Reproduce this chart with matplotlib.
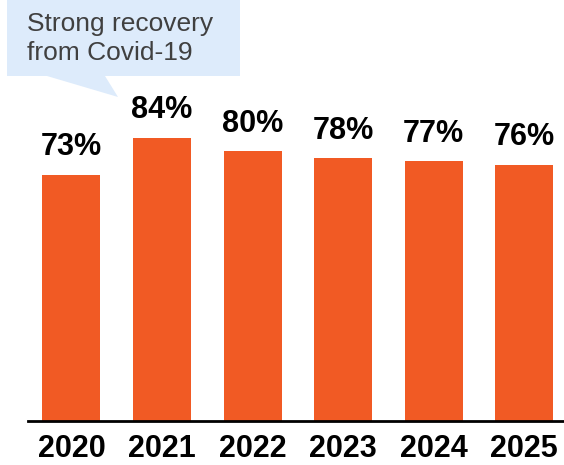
import matplotlib
matplotlib.use('Agg')
import matplotlib.pyplot as plt
from matplotlib.patches import Polygon

plt.rcParams['font.family'] = ['Liberation Sans', 'DejaVu Sans']

years = ['2020', '2021', '2022', '2023', '2024', '2025']
share = [73, 84, 80, 78, 77, 76]
note_text = 'Strong recovery\nfrom Covid-19'

BAR_COLOR = '#F15A24'
NOTE_FILL = '#DDEBFB'

W, H = 564, 465
fig = plt.figure(figsize=(W / 100, H / 100), dpi=100)
ax = fig.add_axes([28 / W, (H - 421) / H, 536 / W, 421 / H])

x = list(range(len(years)))
ax.bar(x, share, width=0.64, color=BAR_COLOR, zorder=2)
for xi, v in zip(x, share):
    ax.annotate(f'{v}%', (xi, v), xytext=(0, 14), textcoords='offset points',
                ha='center', va='baseline', fontsize=22, fontweight='bold')

ax.set_xlim(-0.48, 5.44)
ax.set_ylim(0, 124.9)
ax.set_xticks(x)
ax.set_xticklabels(years, fontsize=22, fontweight='bold')
ax.tick_params(axis='x', length=0, pad=9)
ax.set_yticks([])
for side in ['top', 'right', 'left']:
    ax.spines[side].set_visible(False)
ax.spines['bottom'].set_linewidth(2)

# callout box with a tail pointing at the 2021 bar
pts = [(7, 0), (240, 0), (240, 76), (105, 76), (118, 97), (47, 76), (7, 76)]
fig.patches.append(Polygon([(px / W, 1 - py / H) for px, py in pts],
                           closed=True, transform=fig.transFigure,
                           facecolor=NOTE_FILL, edgecolor='none', zorder=0))
fig.text(27 / W, 1 - 12 / H, note_text, ha='left', va='top', fontsize=19,
         color='#404040', linespacing=1.28)

fig.savefig('out.png', dpi=100)
